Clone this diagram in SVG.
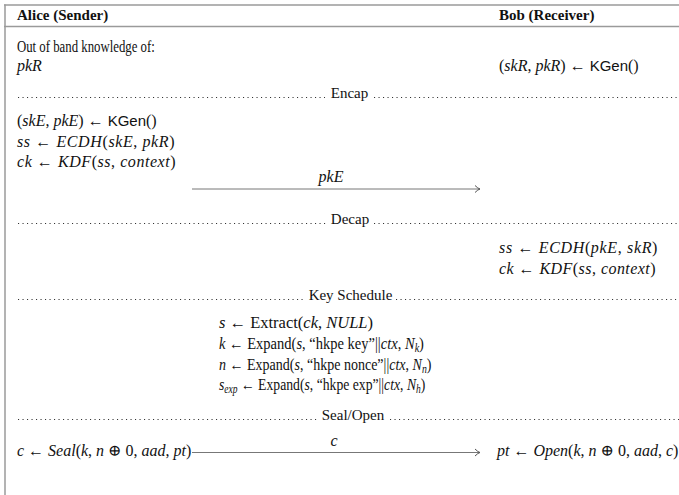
<svg xmlns="http://www.w3.org/2000/svg" width="679" height="495" viewBox="0 0 679 495">
<defs>
<style>
.frame{stroke:#9a9a9a;stroke-width:1.5;fill:none}
.dots{stroke:#333;stroke-width:1.1;stroke-dasharray:1.1 3.4;fill:none}
.hd{font-family:"Liberation Serif","DejaVu Serif",serif;font-weight:bold;font-size:15px;fill:#111}
.lb{font-family:"Liberation Serif","DejaVu Serif",serif;font-size:15px;fill:#111}
.tx{font-family:"Liberation Serif","DejaVu Serif",serif;font-size:16px;fill:#111}
.m{font-family:"Liberation Serif","DejaVu Serif",serif;font-size:16px;fill:#111}
.k{font-family:"Liberation Serif","DejaVu Serif",serif;font-size:16.5px;fill:#111}
.i{font-style:italic}
.sf{font-family:"Liberation Sans","DejaVu Sans",sans-serif;font-style:normal;font-size:15px}
.sub{font-size:11.5px}
.conn{stroke:#777;stroke-width:1;fill:none}
</style>
<marker id="ah" markerWidth="10" markerHeight="10" refX="7" refY="5" orient="auto" markerUnits="userSpaceOnUse">
<path d="M2,1.5 Q5,4.5 7,5 Q5,5.5 2,8.5" stroke="#555" stroke-width="1" fill="none"/>
</marker>
</defs>
<g id="frame">
<line class="frame" x1="4" y1="5" x2="679" y2="5"/>
<line class="frame" x1="4" y1="26.5" x2="679" y2="26.5"/>
<line class="frame" x1="5" y1="4.5" x2="5" y2="495"/>
</g>
<g id="alice-header"><text class="hd" x="17" y="20">Alice (Sender)</text></g>
<g id="bob-header"><text class="hd" x="499" y="20">Bob (Receiver)</text></g>
<g id="alice-setup">
<text class="tx" transform="translate(17 52) scale(0.8 1)">Out of band knowledge of:</text>
<text class="m" x="17" y="71"><tspan class="i">pkR</tspan></text>
</g>
<g id="bob-setup">
<text class="m" x="499" y="71">(<tspan class="i">skR</tspan>, <tspan class="i">pkR</tspan>) ← <tspan class="sf">KGen</tspan>()</text>
</g>
<g id="sec-encap">
<line class="dots" x1="18" y1="97.5" x2="325" y2="97.5"/>
<text class="lb" x="349.5" y="98" text-anchor="middle">Encap</text>
<line class="dots" x1="374" y1="97.5" x2="679" y2="97.5"/>
</g>
<g id="alice-encap">
<text class="m" x="17" y="126">(<tspan class="i">skE</tspan>, <tspan class="i">pkE</tspan>) ← <tspan class="sf">KGen</tspan>()</text>
<text class="m" x="17" y="147" letter-spacing="0.6"><tspan class="i">ss</tspan> ← <tspan class="i">ECDH</tspan>(<tspan class="i">skE</tspan>, <tspan class="i">pkR</tspan>)</text>
<text class="m" x="17" y="167" letter-spacing="0.55"><tspan class="i">ck</tspan> ← <tspan class="i">KDF</tspan>(<tspan class="i">ss</tspan>, <tspan class="i">context</tspan>)</text>
</g>
<g id="sec-decap">
<line class="dots" x1="18" y1="223.5" x2="327" y2="223.5"/>
<text class="lb" x="350" y="224" text-anchor="middle">Decap</text>
<line class="dots" x1="374" y1="223.5" x2="679" y2="223.5"/>
</g>
<g id="bob-decap">
<text class="m" x="499" y="253" letter-spacing="0.65"><tspan class="i">ss</tspan> ← <tspan class="i">ECDH</tspan>(<tspan class="i">pkE</tspan>, <tspan class="i">skR</tspan>)</text>
<text class="m" x="499" y="274" letter-spacing="0.45"><tspan class="i">ck</tspan> ← <tspan class="i">KDF</tspan>(<tspan class="i">ss</tspan>, <tspan class="i">context</tspan>)</text>
</g>
<g id="sec-keyschedule">
<line class="dots" x1="18" y1="299.5" x2="305" y2="299.5"/>
<text class="lb" x="350.5" y="300" text-anchor="middle">Key Schedule</text>
<line class="dots" x1="396" y1="299.5" x2="679" y2="299.5"/>
</g>
<g id="key-schedule">
<text class="k" x="219" y="328"><tspan class="i">s</tspan> ← Extract(<tspan class="i">ck</tspan>, <tspan class="i">NULL</tspan>)</text>
<text class="k" transform="translate(219 349) scale(0.88 1)"><tspan class="i">k</tspan> ← Expand(<tspan class="i">s</tspan>, “hkpe key”||<tspan class="i">ctx</tspan>, <tspan class="i">N</tspan><tspan class="i sub" dy="3">k</tspan><tspan dy="-3">)</tspan></text>
<text class="k" transform="translate(219 370) scale(0.85 1)"><tspan class="i">n</tspan> ← Expand(<tspan class="i">s</tspan>, “hkpe nonce”||<tspan class="i">ctx</tspan>, <tspan class="i">N</tspan><tspan class="i sub" dy="3">n</tspan><tspan dy="-3">)</tspan></text>
<text class="k" transform="translate(219 390) scale(0.83 1)"><tspan class="i">s</tspan><tspan class="i sub" dy="3">exp</tspan><tspan dy="-3"> ← Expand(</tspan><tspan class="i">s</tspan>, “hkpe exp”||<tspan class="i">ctx</tspan>, <tspan class="i">N</tspan><tspan class="i sub" dy="3">h</tspan><tspan dy="-3">)</tspan></text>
</g>
<g id="sec-sealopen">
<line class="dots" x1="18" y1="419.5" x2="317" y2="419.5"/>
<text class="lb" x="353" y="420" text-anchor="middle">Seal/Open</text>
<line class="dots" x1="390" y1="419.5" x2="679" y2="419.5"/>
</g>
<g id="alice-seal">
<text class="m" x="17" y="456" font-size="15"><tspan class="i">c</tspan> ← <tspan class="i">Seal</tspan>(<tspan class="i">k</tspan>, <tspan class="i">n</tspan> ⊕ 0, <tspan class="i">aad</tspan>, <tspan class="i">pt</tspan>)</text>
</g>
<g id="bob-open">
<text class="m" x="497" y="456"><tspan class="i">pt</tspan> ← <tspan class="i">Open</tspan>(<tspan class="i">k</tspan>, <tspan class="i">n</tspan> ⊕ 0, <tspan class="i">aad</tspan>, <tspan class="i">c</tspan>)</text>
</g>
<g id="connectors">
<line class="conn" x1="192" y1="189" x2="480" y2="189" marker-end="url(#ah)"/>
<text class="m" x="331" y="182" text-anchor="middle"><tspan class="i">pkE</tspan></text>
<line class="conn" x1="192" y1="452.5" x2="480" y2="452.5" marker-end="url(#ah)"/>
<text class="m" x="334" y="446" text-anchor="middle"><tspan class="i">c</tspan></text>
</g>
</svg>
